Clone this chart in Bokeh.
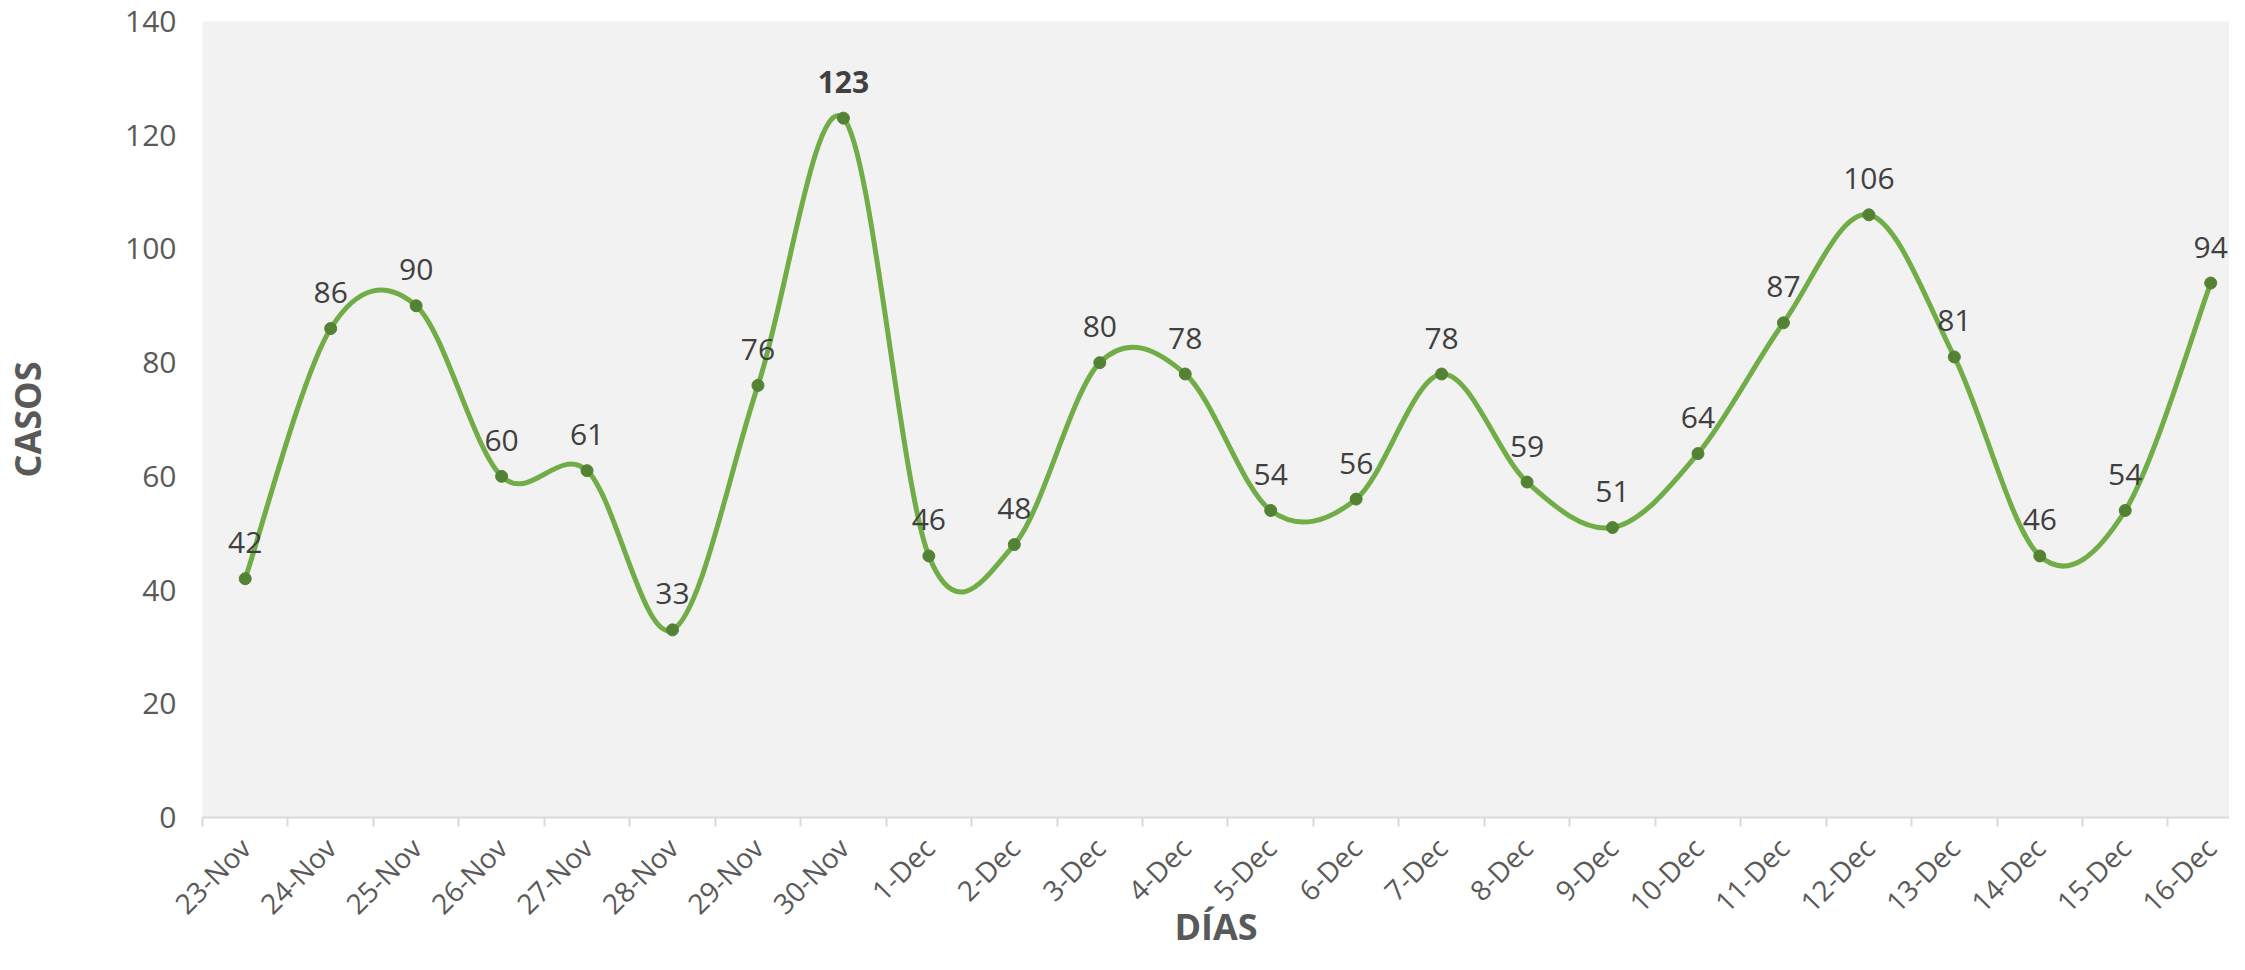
import numpy as np
from bokeh.plotting import figure
from bokeh.models import Range1d, FixedTicker, LinearAxis, ColumnDataSource
from bokeh.core.properties import value
from bokeh.embed import file_html
from bokeh.resources import INLINE

dias = ["23-Nov", "24-Nov", "25-Nov", "26-Nov", "27-Nov", "28-Nov", "29-Nov", "30-Nov",
        "1-Dec", "2-Dec", "3-Dec", "4-Dec", "5-Dec", "6-Dec", "7-Dec", "8-Dec",
        "9-Dec", "10-Dec", "11-Dec", "12-Dec", "13-Dec", "14-Dec", "15-Dec", "16-Dec"]
casos = [42, 86, 90, 60, 61, 33, 76, 123, 46, 48, 80, 78, 54, 56, 78, 59,
         51, 64, 87, 106, 81, 46, 54, 94]
y_ticks = [0, 20, 40, 60, 80, 100, 120, 140]

FONT = "Open Sans"
GRAY = "#595959"
n = len(dias)
xs = np.arange(n, dtype=float)
ys = np.array(casos, dtype=float)

p = figure(width=2229, height=954,
           x_range=Range1d(-0.5, 23.22), y_range=Range1d(0, 140),
           output_backend="svg", toolbar_location=None,
           min_border_left=185, min_border_right=0, min_border_top=21, min_border_bottom=100,
           background_fill_color="#F2F2F2", border_fill_color="white",
           outline_line_color=None)
p.grid.visible = False

# y axis
ya = p.yaxis[0]
ya.ticker = FixedTicker(ticks=y_ticks)
ya.axis_line_color = None
ya.major_tick_line_color = None
ya.minor_tick_line_color = None
ya.major_tick_out = 0
ya.major_tick_in = 0
ya.major_label_standoff = 26
ya.major_label_text_font = FONT
ya.major_label_text_font_size = "30px"
ya.major_label_text_color = GRAY
ya.axis_label = "CASOS"
ya.axis_label_text_font = FONT
ya.axis_label_text_font_style = "bold"
ya.axis_label_text_font_size = "36px"
ya.axis_label_text_color = GRAY
ya.axis_label_standoff = 70

# x axis: boundary ticks
bounds = [i - 0.5 for i in range(n + 1)]
xa = p.xaxis[0]
xa.ticker = FixedTicker(ticks=bounds)
xa.major_label_overrides = {b: "" for b in bounds}
xa.major_label_text_font_size = "0px"
xa.major_label_standoff = 0
xa.axis_line_color = "#D9D9D9"
xa.axis_line_width = 2
xa.major_tick_line_color = "#D9D9D9"
xa.major_tick_line_width = 2
xa.major_tick_in = 0
xa.major_tick_out = 9
xa.minor_tick_line_color = None

# x axis: category labels and title
la = LinearAxis(ticker=FixedTicker(ticks=list(range(n))),
                major_label_overrides={i: d for i, d in enumerate(dias)},
                major_label_orientation=np.pi / 4)
la.axis_line_color = None
la.major_tick_line_color = None
la.minor_tick_line_color = None
la.major_tick_in = 0
la.major_tick_out = 0
la.major_label_standoff = 16
la.major_label_text_font = FONT
la.major_label_text_font_size = "28px"
la.major_label_text_color = GRAY
la.axis_label = "DÍAS"
la.axis_label_text_font = FONT
la.axis_label_text_font_style = "bold"
la.axis_label_text_font_size = "36px"
la.axis_label_text_color = GRAY
la.axis_label_standoff = -36
p.add_layout(la, "below")

# smooth line (Catmull-Rom Bezier segments through the data points)
i0 = np.arange(n - 1)
ip = np.maximum(i0 - 1, 0)
i1 = i0 + 1
i2 = np.minimum(i0 + 2, n - 1)
seg = ColumnDataSource(dict(
    x0=xs[i0], y0=ys[i0], x1=xs[i1], y1=ys[i1],
    cx0=xs[i0] + (xs[i1] - xs[ip]) / 6, cy0=ys[i0] + (ys[i1] - ys[ip]) / 6,
    cx1=xs[i1] - (xs[i2] - xs[i0]) / 6, cy1=ys[i1] - (ys[i2] - ys[i0]) / 6,
))
p.bezier(x0="x0", y0="y0", x1="x1", y1="y1", cx0="cx0", cy0="cy0", cx1="cx1", cy1="cy1",
         source=seg, line_color="#70AD47", line_width=5, line_cap="round")

pts = ColumnDataSource(dict(
    x=xs, y=ys, t=[str(v) for v in casos],
    st=["bold" if v == max(casos) else "normal" for v in casos],
))
p.scatter(x="x", y="y", source=pts, size=12, fill_color="#548235", line_color="#548235")
p.text(x="x", y="y", text="t", source=pts, text_align="center", text_baseline="middle",
       y_offset=-36, text_font=value(FONT), text_font_size="30px",
       text_font_style="st", text_color="#404040")

open("out.html", "w").write(file_html(p, INLINE))
